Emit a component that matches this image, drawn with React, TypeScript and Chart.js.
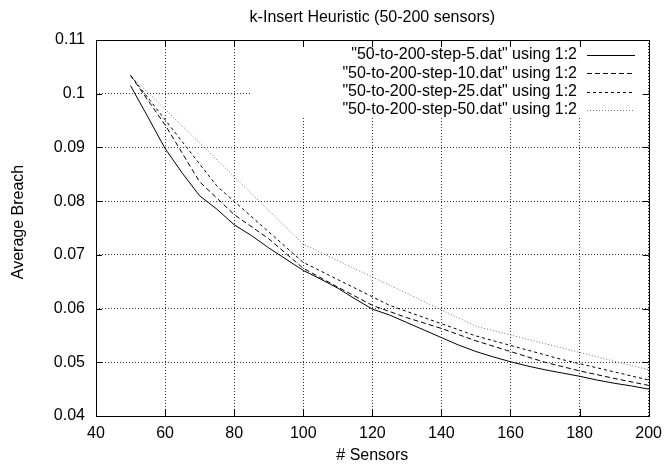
import React, { useEffect, useRef } from "react";
import { Chart, registerables } from "chart.js";

Chart.register(...registerables);

// ---- text ----
const chartTitle = "k-Insert Heuristic (50-200 sensors)";
const xAxisTitle = "# Sensors";
const yAxisTitle = "Average Breach";
const seriesLabels = [
  '"50-to-200-step-5.dat" using 1:2',
  '"50-to-200-step-10.dat" using 1:2',
  '"50-to-200-step-25.dat" using 1:2',
  '"50-to-200-step-50.dat" using 1:2',
];

// ---- axes ----
const xTicks = [40, 60, 80, 100, 120, 140, 160, 180, 200];
const yTicks = [0.04, 0.05, 0.06, 0.07, 0.08, 0.09, 0.1, 0.11];

// ---- data ----
const sensorsStep5 = [50, 55, 60, 65, 70, 75, 80, 85, 90, 95, 100, 105, 110, 115, 120, 125, 130, 135, 140, 145, 150, 155, 160, 165, 170, 175, 180, 185, 190, 195, 200];
const breachStep5 = [0.1015, 0.0957, 0.0898, 0.0852, 0.081, 0.0785, 0.0756, 0.0736, 0.0713, 0.0692, 0.0671, 0.0655, 0.0638, 0.0618, 0.0599, 0.0588, 0.0574, 0.056, 0.0546, 0.0532, 0.052, 0.051, 0.0501, 0.0493, 0.0486, 0.048, 0.0474, 0.0467, 0.0461, 0.0456, 0.045];

const sensorsStep10 = [50, 60, 70, 80, 90, 100, 110, 120, 130, 140, 150, 160, 170, 180, 190, 200];
const breachStep10 = [0.1034, 0.0942, 0.0836, 0.0775, 0.073, 0.0675, 0.064, 0.0606, 0.0583, 0.0563, 0.054, 0.052, 0.05, 0.0484, 0.047, 0.0457];

const sensorsStep25 = [50, 75, 100, 125, 150, 175, 200];
const breachStep25 = [0.1034, 0.0828, 0.0686, 0.0606, 0.0549, 0.0505, 0.0467];

const sensorsStep50 = [50, 100, 150, 200];
const breachStep50 = [0.1034, 0.072, 0.0567, 0.0486];

const seriesX = [sensorsStep5, sensorsStep10, sensorsStep25, sensorsStep50];
const seriesY = [breachStep5, breachStep10, breachStep25, breachStep50];
const seriesColors = ["#000000", "#000000", "#000000", "#777777"];
const seriesDashes: number[][] = [[], [5, 3], [3, 3], [1, 2]];

const FONT = '16px "Liberation Sans", Arial, Helvetica, sans-serif';

const gnuplotDecor = {
  id: "gnuplotDecor",
  beforeDatasetsDraw(chart: any) {
    const { ctx, chartArea: a } = chart;
    // blank box behind the key (gnuplot hides grid there)
    ctx.save();
    ctx.fillStyle = "#ffffff";
    ctx.fillRect(250, a.top + 1, a.right - 250 - 1, 117 - a.top);
    ctx.restore();
  },
  afterDatasetsDraw(chart: any) {
    const { ctx, chartArea: a, scales } = chart;
    ctx.save();
    ctx.strokeStyle = "#000";
    ctx.lineWidth = 1;
    ctx.setLineDash([]);
    // border
    ctx.strokeRect(Math.round(a.left) + 0.5, Math.round(a.top) + 0.5, Math.round(a.right - a.left), Math.round(a.bottom - a.top));
    // ticks
    ctx.beginPath();
    xTicks.forEach((v) => {
      const x = Math.round(scales.x.getPixelForValue(v)) + 0.5;
      ctx.moveTo(x, a.bottom);
      ctx.lineTo(x, a.bottom - 7);
      ctx.moveTo(x, a.top);
      ctx.lineTo(x, a.top + 7);
    });
    yTicks.forEach((v) => {
      const y = Math.round(scales.y.getPixelForValue(v)) + 0.5;
      ctx.moveTo(a.left, y);
      ctx.lineTo(a.left + 6, y);
      ctx.moveTo(a.right, y);
      ctx.lineTo(a.right - 6, y);
    });
    ctx.stroke();

    // titles
    ctx.fillStyle = "#000";
    ctx.font = FONT;
    ctx.textAlign = "center";
    ctx.textBaseline = "middle";
    const cx = (a.left + a.right) / 2;
    ctx.fillText(chartTitle, cx, 18);
    ctx.fillText(xAxisTitle, cx, 456);
    ctx.save();
    ctx.translate(19, 222);
    ctx.rotate(-Math.PI / 2);
    ctx.fillText(yAxisTitle, 0, 0);
    ctx.restore();

    // key
    seriesLabels.forEach((label, i) => {
      const y = 55 + i * 18.3;
      ctx.textAlign = "right";
      ctx.fillStyle = "#000";
      ctx.fillText(label, 577, y);
      ctx.beginPath();
      ctx.strokeStyle = seriesColors[i];
      ctx.setLineDash(seriesDashes[i]);
      ctx.moveTo(587, Math.round(y) + 0.5);
      ctx.lineTo(635, Math.round(y) + 0.5);
      ctx.stroke();
    });
    ctx.restore();
  },
};

export default function App() {
  const canvasRef = useRef<HTMLCanvasElement | null>(null);

  useEffect(() => {
    if (!canvasRef.current) return;
    const datasets = seriesLabels.map((label, i) => ({
      label,
      data: seriesX[i].map((x, j) => ({ x, y: seriesY[i][j] })),
      borderColor: seriesColors[i],
      backgroundColor: seriesColors[i],
      borderWidth: 1,
      borderDash: seriesDashes[i],
      pointRadius: 0,
      fill: false,
      tension: 0,
    }));

    const chart = new Chart(canvasRef.current, {
      type: "line",
      data: { datasets },
      plugins: [gnuplotDecor],
      options: {
        animation: false,
        responsive: false,
        devicePixelRatio: 1,
        layout: { padding: { top: 40, right: 16, left: 0, bottom: 0 } },
        plugins: {
          legend: { display: false },
          title: { display: false },
          tooltip: { enabled: false },
        },
        scales: {
          x: {
            type: "linear",
            min: 40,
            max: 200,
            afterBuildTicks: (scale: any) => {
              scale.ticks = xTicks.map((v) => ({ value: v }));
            },
            afterFit: (scale: any) => {
              scale.height = 52;
            },
            ticks: {
              color: "#000",
              font: { family: '"Liberation Sans", Arial, sans-serif', size: 16 },
              padding: 8,
              maxRotation: 0,
              autoSkip: false,
            },
            grid: { color: "#333", lineWidth: 1, drawTicks: false },
            border: { display: false, dash: [1, 2] },
          },
          y: {
            type: "linear",
            min: 0.04,
            max: 0.11,
            afterBuildTicks: (scale: any) => {
              scale.ticks = yTicks.map((v) => ({ value: v }));
            },
            afterFit: (scale: any) => {
              scale.width = 96;
            },
            ticks: {
              color: "#000",
              font: { family: '"Liberation Sans", Arial, sans-serif', size: 16 },
              padding: 11,
              autoSkip: false,
              callback: (v: any) => String(Number(Number(v).toFixed(2))),
            },
            grid: { color: "#333", lineWidth: 1, drawTicks: false },
            border: { display: false, dash: [1, 2] },
          },
        },
      },
    } as any);
    return () => chart.destroy();
  }, []);

  return (
    <div style={{ position: "fixed", left: 0, top: 0, width: 670, height: 468, background: "#fff" }}>
      <canvas ref={canvasRef} width={670} height={468} style={{ display: "block", width: 670, height: 468 }} />
    </div>
  );
}
